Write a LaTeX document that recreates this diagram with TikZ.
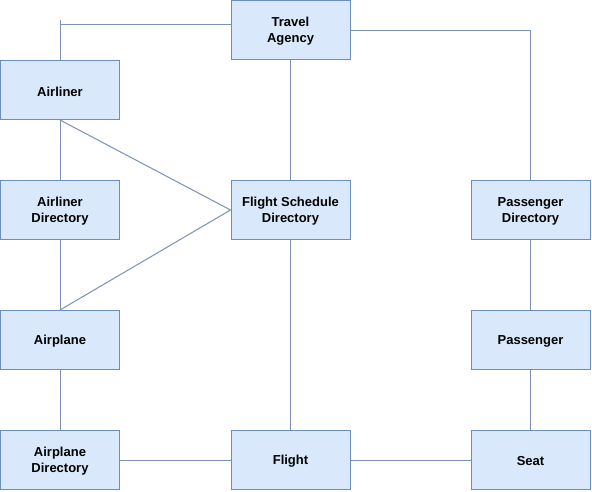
\documentclass[tikz,border=0pt]{standalone}
\usepackage{fontspec}
\setmainfont{Liberation Sans}
\begin{document}
\begin{tikzpicture}[x=1pt,y=-1pt,
  box/.style={draw=bordc, fill=fillc, line width=1pt, minimum width=119pt, minimum height=59pt, inner sep=0pt},
  lbl/.style={inner sep=0pt, align=center, font=\fontsize{13}{16}\selectfont\bfseries},
  conn/.style={draw=linec, line width=1pt}]
\definecolor{bordc}{HTML}{6C8EBF}
\definecolor{fillc}{HTML}{DAE8FC}
\definecolor{linec}{HTML}{7A90B5}
\useasboundingbox (0,0) rectangle (592,491);
\node[box] (travel) at (290.5,30) {};
\node[box] (airliner) at (60,90) {};
\node[box] (aldir) at (60,210) {};
\node[box] (fsd) at (290.5,210) {};
\node[box] (pdir) at (530.5,210) {};
\node[box] (airplane) at (60,340) {};
\node[box] (passenger) at (530.5,340) {};
\node[box] (apdir) at (60,460) {};
\node[box] (flight) at (290.5,460) {};
\node[box] (seat) at (530.5,460) {};
\node[lbl] (travelt) at ([yshift=-1.5pt]travel.center) {Travel\\Agency};
\node[lbl] (airlinert) at ([yshift=-1.5pt]airliner.center) {Airliner};
\node[lbl] (aldirt) at ([yshift=-1.5pt]aldir.center) {Airliner\\Directory};
\node[lbl] (fsdt) at ([yshift=-1.5pt]fsd.center) {Flight Schedule\\Directory};
\node[lbl] (pdirt) at ([yshift=-1.5pt]pdir.center) {Passenger\\Directory};
\node[lbl] (airplanet) at ([yshift=-1.5pt]airplane.center) {Airplane};
\node[lbl] (passengert) at ([yshift=-1.5pt]passenger.center) {Passenger};
\node[lbl] (apdirt) at ([yshift=-1.5pt]apdir.center) {Airplane\\Directory};
\node[lbl] (flightt) at ([yshift=-1.5pt]flight.center) {Flight};
\node[lbl] (seatt) at ([yshift=-1.5pt]seat.center) {Seat};
\coordinate (tick) at (60,20);
\coordinate (tl) at (60,24);
\coordinate (tr) at (530.5,30);
\path[conn] (airliner.north) -- (tick);
\path[conn] (travel.west |- tl) -- (tl);
\path[conn] (travel.east |- tr) -- (tr) -- (pdir.north);
\path[conn] (airliner.south) -- (aldir.north);
\path[conn] (aldir.south) -- (airplane.north);
\path[conn] (airplane.south) -- (apdir.north);
\path[conn] (airliner.south) -- (fsd.west) -- (airplane.north);
\path[conn] (travel.south) -- (fsd.north);
\path[conn] (fsd.south) -- (flight.north);
\path[conn] (pdir.south) -- (passenger.north);
\path[conn] (passenger.south) -- (seat.north);
\path[conn] (apdir.east) -- (flight.west);
\path[conn] (flight.east) -- (seat.west);
\end{tikzpicture}
\end{document}
